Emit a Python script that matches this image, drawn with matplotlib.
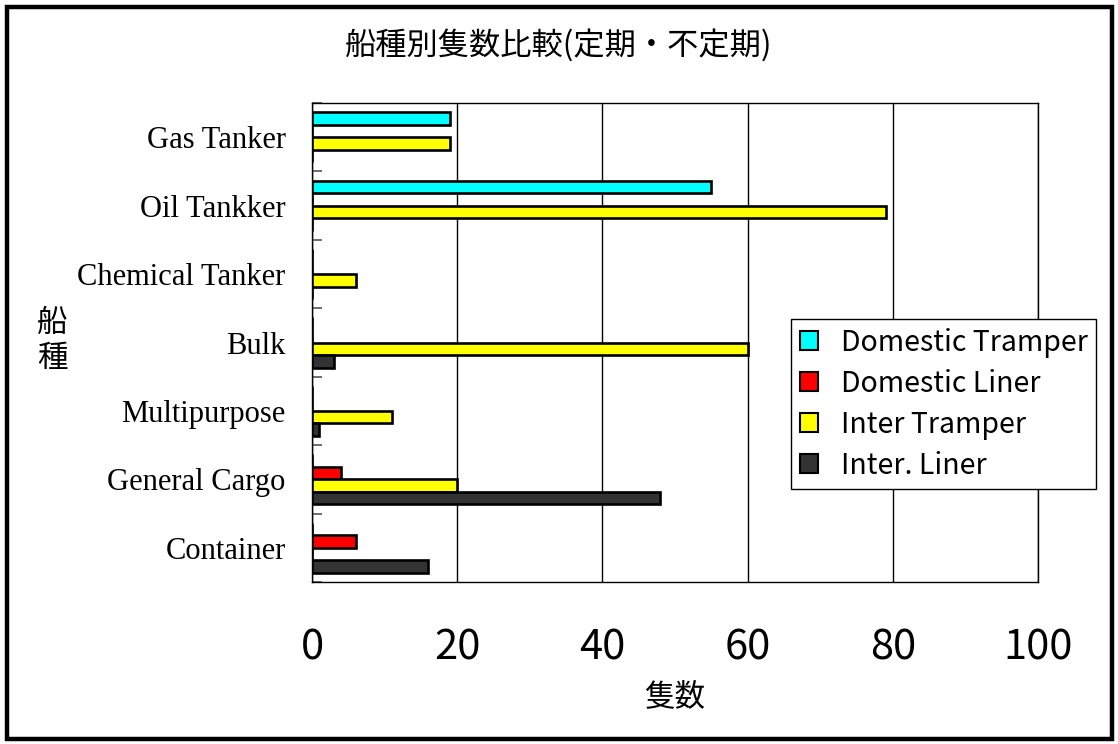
import matplotlib
matplotlib.use("Agg")
import matplotlib.pyplot as plt
import numpy as np
from matplotlib.patches import Rectangle

categories = ["Gas Tanker", "Oil Tankker", "Chemical Tanker", "Bulk",
              "Multipurpose", "General Cargo", "Container"]
series_names = ["Domestic Tramper", "Domestic Liner", "Inter Tramper", "Inter. Liner"]
domestic_tramper = [19, 55, 0, 0, 0, 0, 0]
domestic_liner = [0, 0, 0, 0, 0, 4, 6]
inter_tramper = [19, 79, 6, 60, 11, 20, 0]
inter_liner = [0, 0, 0, 3, 1, 48, 16]
x_ticks = [0, 20, 40, 60, 80, 100]
colors = ["#00FFFF", "#FF0000", "#FFFF00", "#333333"]

title = "船種別隻数比較(定期・不定期)"
xlabel = "隻数"
ylabel = "船\n種"

JP = ["Noto Sans CJK JP", "DejaVu Sans"]
plt.rcParams['font.family'] = JP

W, H = 1118, 744
fig = plt.figure(figsize=(W / 100, H / 100), dpi=100)
fig.patch.set_facecolor("white")

# outer frame
fig.patches.append(Rectangle((7 / W, 5 / H), (1112 - 7) / W, (738 - 6) / H,
                             transform=fig.transFigure, fill=False,
                             edgecolor="black", linewidth=3.2, zorder=10))

left, right, top, bottom = 312, 1038, 103, 582
ax = fig.add_axes([left / W, 1 - bottom / H, (right - left) / W, (bottom - top) / H])

all_series = [domestic_tramper, domestic_liner, inter_tramper, inter_liner]
n = len(all_series)
h = 0.183
y = np.arange(len(categories))
for j, (vals, name, c) in enumerate(zip(all_series, series_names, colors)):
    offs = (j - (n - 1) / 2) * h
    ax.barh(y + offs, vals, height=h, color=c, edgecolor="black",
            linewidth=1.9, label=name, zorder=3)

ax.set_xlim(0, 100)
ax.set_ylim(len(categories) - 0.5, -0.5)
ax.set_xticks(x_ticks)
ax.set_xticklabels([str(t) for t in x_ticks], fontsize=30, family=JP)
ax.tick_params(axis="x", length=0, pad=33)
ax.xaxis.grid(True, color="black", linewidth=1.0, zorder=1)
ax.set_axisbelow(True)

ax.set_yticks(y)
ax.set_yticklabels(categories, fontsize=22, family=["Liberation Serif", "DejaVu Serif"])
ax.tick_params(axis="y", which="major", length=0, pad=19)
ax.set_yticks(np.arange(-0.5, len(categories), 1.0), minor=True)
ax.tick_params(axis="y", which="minor", direction="in", length=7, width=1.2, color="#555555")

for s in ax.spines.values():
    s.set_color("black")
    s.set_linewidth(1.0)

fig.text(0.5, 1 - 45 / H, title, ha="center", va="center", fontsize=22.5, family=JP)
fig.text(675 / W, 1 - 697 / H, xlabel, ha="center", va="center", fontsize=22, family=JP)
fig.text(52 / W, 1 - 341 / H, ylabel, ha="center", va="center", fontsize=22,
         family=JP, linespacing=1.2)

leg = ax.legend(loc="upper left", bbox_to_anchor=(791 / W, 1 - 319 / H),
                bbox_transform=fig.transFigure, borderaxespad=0,
                fontsize=20.5, frameon=True, fancybox=False, framealpha=1,
                edgecolor="black", handlelength=0.65, handleheight=0.65,
                handletextpad=0.8, labelspacing=0.39, borderpad=0.3)
leg.get_frame().set_linewidth(1.0)
for p in leg.get_patches():
    p.set_linewidth(1.5)

fig.savefig("out.png", dpi=100)
